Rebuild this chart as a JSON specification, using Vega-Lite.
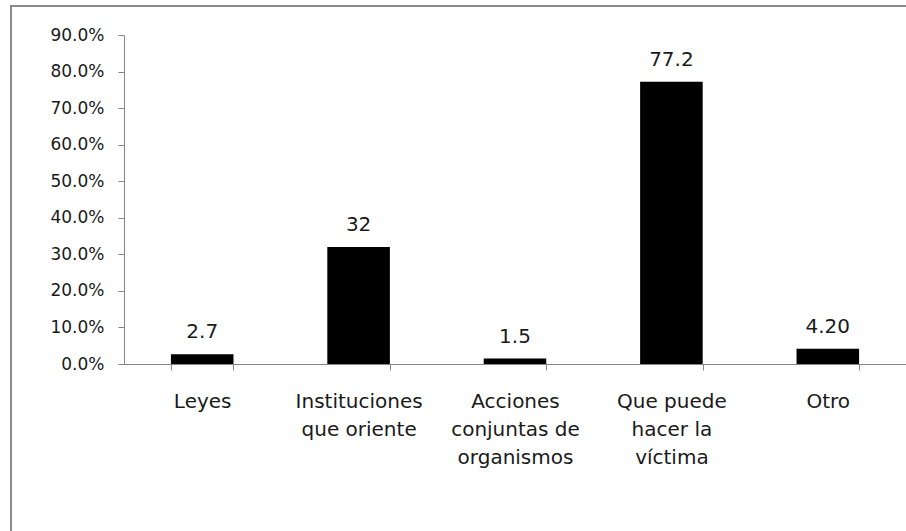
{
  "$schema": "https://vega.github.io/schema/vega-lite/v6.json",
  "autosize": {"type": "none"},
  "padding": {"left": 11, "top": 6, "right": 0, "bottom": 0},
  "width": 900,
  "height": 530,
  "background": "white",
  "config": {
    "view": {"stroke": "#8a8a8a", "strokeWidth": 2},
    "font": "DejaVu Sans"
  },
  "data": {
    "values": [
      {"cat": "Leyes", "value": 2.7, "label": "2.7"},
      {"cat": "Instituciones|que oriente", "value": 32, "label": "32"},
      {"cat": "Acciones|conjuntas de|organismos", "value": 1.5, "label": "1.5"},
      {"cat": "Que puede|hacer la|víctima", "value": 77.2, "label": "77.2"},
      {"cat": "Otro", "value": 4.2, "label": "4.20"}
    ]
  },
  "encoding": {
    "x": {
      "field": "cat",
      "type": "nominal",
      "sort": null,
      "scale": {"range": [113, 895], "paddingInner": 0.6, "paddingOuter": 0.3},
      "axis": {
        "title": null,
        "orient": "bottom",
        "offset": -172,
        "labelAngle": 0,
        "labelExpr": "isString(datum.value) ? split(datum.value, '|') : ''",
        "labelFont": "DejaVu Sans",
        "labelFontSize": 20,
        "labelColor": "#1a1a1a",
        "labelLineHeight": 28,
        "labelPadding": 21,
        "labelBaseline": "top",
        "tickBand": "extent",
        "tickSize": 6,
        "tickColor": "#868686",
        "domainColor": "#868686",
        "labelLimit": 0
      }
    },
    "y": {
      "field": "value",
      "type": "quantitative",
      "scale": {"domain": [0, 90], "range": [358, 29], "nice": false},
      "axis": {
        "title": null,
        "offset": -113,
        "values": [0, 10, 20, 30, 40, 50, 60, 70, 80, 90],
        "labelExpr": "format(datum.value / 100, '.1%')",
        "labelFont": "DejaVu Sans",
        "labelFontSize": 17,
        "labelColor": "#1a1a1a",
        "labelPadding": 14,
        "tickSize": 6,
        "tickColor": "#868686",
        "domainColor": "#868686",
        "grid": false
      }
    }
  },
  "layer": [
    {"mark": {"type": "bar", "color": "#000000"}},
    {
      "mark": {"type": "text", "baseline": "alphabetic", "dy": -16, "fontSize": 20, "font": "DejaVu Sans", "color": "#1a1a1a"},
      "encoding": {"text": {"field": "label"}}
    }
  ]
}
